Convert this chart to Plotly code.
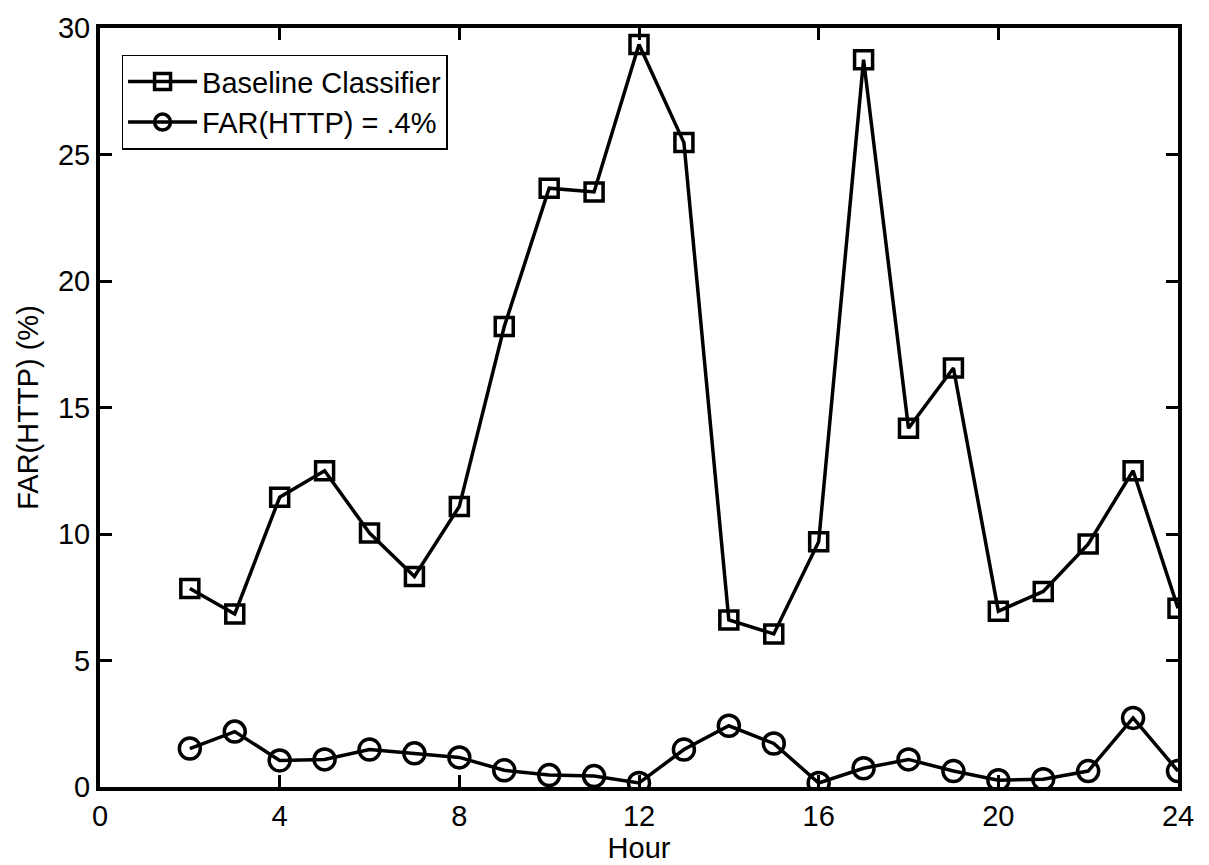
import plotly.graph_objects as go

hours = list(range(2, 25))
baseline = [7.85, 6.84, 11.45, 12.5, 10.04, 8.32, 11.09, 18.2, 23.67, 23.52, 29.35, 25.47,
            6.6, 6.05, 9.69, 28.75, 14.18, 16.56, 6.95, 7.73, 9.6, 12.5, 7.07]
far = [1.52, 2.19, 1.05, 1.09, 1.48, 1.33, 1.17, 0.66, 0.47, 0.43, 0.16, 1.48,
       2.42, 1.72, 0.16, 0.74, 1.09, 0.63, 0.27, 0.31, 0.63, 2.73, 0.63]
x_ticks = [0, 4, 8, 12, 16, 20, 24]
y_ticks = [0, 5, 10, 15, 20, 25, 30]

FS = 29

fig = go.Figure()
fig.add_trace(go.Scatter(x=hours, y=baseline, mode="lines+markers", name="Baseline Classifier",
                         line=dict(color="black", width=3.5),
                         marker=dict(symbol="square-open", size=18, color="black", line=dict(width=3.5))))
fig.add_trace(go.Scatter(x=hours, y=far, mode="lines+markers", name="FAR(HTTP) = .4%",
                         line=dict(color="black", width=3.5),
                         marker=dict(symbol="circle-open", size=21, color="black", line=dict(width=3.5))))

axis_common = dict(showgrid=False, zeroline=False, showline=True, linecolor="black", linewidth=4,
                   mirror="ticks", ticks="inside", ticklen=12, tickwidth=2.5, tickcolor="black",
                   tickfont=dict(size=FS, color="black"))
fig.update_xaxes(range=[0, 24], tickvals=x_ticks,
                 title=dict(text="Hour", font=dict(size=FS, color="black"), standoff=0),
                 **axis_common)
fig.update_yaxes(range=[0, 30], tickvals=y_ticks,
                 title=dict(text="FAR(HTTP) (%)", font=dict(size=FS, color="black"), standoff=12),
                 **axis_common)

fig.update_layout(width=1209, height=865, margin=dict(l=100, r=31, t=20, b=78),
                  plot_bgcolor="white", paper_bgcolor="white",
                  font=dict(family="Liberation Sans, Arial, sans-serif", color="black"),
                  legend=dict(x=0.02, y=0.965, xanchor="left", yanchor="top", bgcolor="white",
                              bordercolor="black", borderwidth=1.5, font=dict(size=FS, color="black"),
                              itemwidth=69, tracegroupgap=0),
                  showlegend=True)
fig.write_html("out.html")
